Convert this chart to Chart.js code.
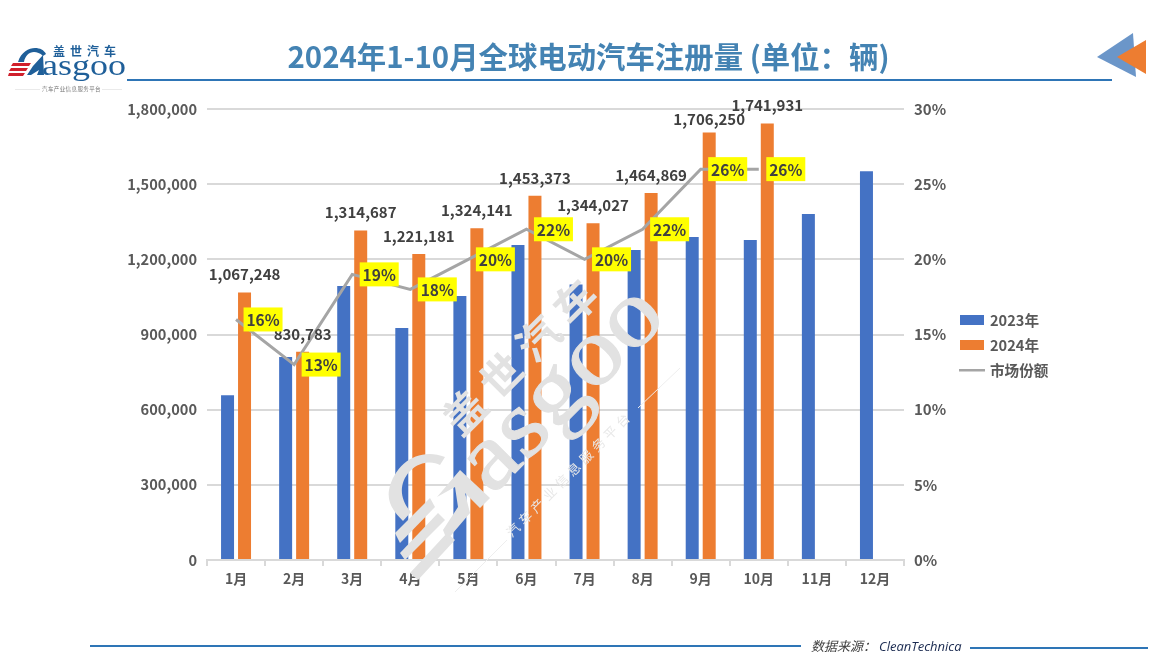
<!DOCTYPE html>
<html>
<head>
<meta charset="utf-8">
<script src="https://cdn.jsdelivr.net/npm/chart.js@4"></script>
<style>
  html, body { margin: 0; padding: 0; background: #fff; overflow: hidden; }
  #wrap { position: relative; width: 1173px; height: 661px; }
  #myChart { position: absolute; left: 0; top: 0; }
  svg { position: absolute; left: 0; top: 0; pointer-events: none; }
  #title { position: absolute; left: 0; top: 33px; width: 1177px; text-align: center;
    font: bold 29.4px "Noto Sans CJK SC"; color: #4483b3; line-height: 44px; }
  #source { position: absolute; left: 811px; top: 637px; font: italic 13px "Noto Sans CJK SC"; color: #404040; line-height: 18px; white-space: pre; }
  #source span { position: absolute; left: 68px; top: 0; font-family: "Open Sans"; color: #1a2a50; }
</style>
</head>
<body>
<div id="wrap">
  <canvas id="myChart" width="1173" height="661"></canvas>
  <div id="title">2024年1-10月全球电动汽车注册量 (单位：辆)</div>
  <svg width="1173" height="661" viewBox="0 0 1173 661">
    <!-- header and footer rules -->
    <rect x="127" y="79" width="985" height="2" fill="#2e75b6"/>
    <rect x="90" y="645" width="711" height="2" fill="#2e75b6"/>
    <rect x="970" y="647" width="178" height="2" fill="#2e75b6"/>
    <!-- corner arrows -->
    <polygon points="1097,57 1133,33 1136,77" fill="#6b96c9"/>
    <polygon points="1117,57 1146,40 1146,74" fill="#ed7d31"/>
    <!-- logo -->
    <g fill="#1f5f99">
      <text x="53" y="56" font-family="Noto Sans CJK SC" font-weight="bold" font-size="12" letter-spacing="5">盖世汽车</text>
      <text x="42" y="75" font-family="Liberation Serif" font-size="29" textLength="84" lengthAdjust="spacingAndGlyphs">asgoo</text>
      <path d="M18 62 C21 52 29 48 35 48 C40 48 44 50 46 54 L43 56 C40 53 37 52 34 52 C29 52 25 56 24 62 Z"/>
      <polygon points="33,66 43,55 44,75 37,75 39,70 31,75 27,75"/>
    </g>
    <g fill="#d0202c">
      <polygon points="13,63 31,63 29,66 11,66"/>
      <polygon points="11,68 28,68 26,71 9,71"/>
      <polygon points="9,73 25,73 23,76 8,76"/>
    </g>
    <rect x="15" y="89" width="25" height="0.6" fill="#ddd"/>
    <rect x="102" y="89" width="20" height="0.6" fill="#ddd"/>
    <text x="42" y="91" font-family="Noto Sans CJK SC" font-size="5.5" fill="#777" letter-spacing="0.4">汽车产业信息服务平台</text>
    <!-- watermark -->
    <g fill="#e2e2e2">
      <text transform="translate(492 496) rotate(-45)" font-family="Liberation Serif" font-size="96" textLength="250" lengthAdjust="spacingAndGlyphs" stroke="#e2e2e2" stroke-width="1">asgoo</text>
      <text transform="translate(461 438) rotate(-45)" font-family="Noto Sans CJK SC" font-weight="bold" font-size="42" letter-spacing="10">盖世汽车</text>
      <text transform="translate(512 538) rotate(-45)" font-family="Noto Sans CJK SC" font-size="13" letter-spacing="4.2" fill="#e8e8e8">汽车产业信息服务平台</text>
      <path d="M445 457 C420 447 395 462 389 490 C387 503 394 512 403 521 L411 512 C400 500 398 484 410 471 C420 461 433 461 440 465 Z"/>
      <polygon points="430,498 435,507 400,543 395,533"/>
      <polygon points="438,513 445,520 405,560 400,553"/>
      <polygon points="447,533 455,540 418,580 410,573"/>
      <polygon points="460,470 490,498 480,508 465,493 470,513 447,540 443,530 458,507 455,487 437,497"/>
    </g>
    <line x1="455" y1="592" x2="507" y2="540" stroke="#eee" stroke-width="1"/>
    <line x1="638" y1="408" x2="680" y2="368" stroke="#eee" stroke-width="1"/>
  </svg>
  <div id="source">数据来源：<span>CleanTechnica</span></div>
</div>
<script>
  const labels = ['1月', '2月', '3月', '4月', '5月', '6月', '7月', '8月', '9月', '10月', '11月', '12月'];
  const sales2023 = [658000, 810000, 1094000, 926000, 1054000, 1257000, 1100000, 1237000, 1289000, 1277000, 1381000, 1552000];
  const sales2024 = [1067248, 830783, 1314687, 1221181, 1324141, 1453373, 1344027, 1464869, 1706250, 1741931, null, null];
  const share = [16, 13, 19, 18, 20, 22, 20, 22, 26, 26, null, null];

  const cjk = '"Noto Sans CJK SC"';
  const grey = '#595959';

  // value labels, share boxes and legend are drawn here, no datalabels plugin available
  const chartLabels = {
    id: 'chartLabels',
    afterDatasetsDraw(chart) {
      const c = chart.ctx;
      const y = chart.scales.y;
      const y1 = chart.scales.y1;
      const bars = chart.getDatasetMeta(1).data;
      c.save();
      c.textAlign = 'center';
      c.textBaseline = 'middle';
      c.font = 'bold 15px ' + cjk;
      c.fillStyle = '#404040';
      sales2024.forEach((v, i) => {
        if (v === null) return;
        const lift = i === 8 ? 13 : 18;
        c.fillText(v.toLocaleString('en-US'), bars[i].x, y.getPixelForValue(v) - lift);
      });
      c.font = 'bold 15.5px ' + cjk;
      share.forEach((v, i) => {
        if (v === null) return;
        const cx = chart.scales.x.getPixelForValue(i) + 27;
        const cy = y1.getPixelForValue(v);
        c.fillStyle = '#ffff00';
        c.fillRect(cx - 19.5, cy - 12, 39, 24);
        c.fillStyle = '#404040';
        c.fillText(v + '%', cx, cy + 0.5);
      });
      // legend
      c.textAlign = 'left';
      c.font = 'bold 14.6px ' + cjk;
      [0, 1, 2].forEach(i => {
        const ds = chart.data.datasets[i];
        const ly = 320 + i * 25;
        if (ds.type === 'line') {
          c.fillStyle = ds.borderColor;
          c.fillRect(959, ly - 1, 26, 2.5);
        } else {
          c.fillStyle = ds.backgroundColor;
          c.fillRect(960, ly - 5, 24, 10);
        }
        c.fillStyle = grey;
        c.fillText(ds.label, 990, ly);
      });
      c.restore();
    }
  };

  const config = {
    data: {
      labels: labels,
      datasets: [{
        type: 'bar',
        label: '2023年',
        backgroundColor: '#4472c4',
        data: sales2023,
        yAxisID: 'y',
        order: 1,
        categoryPercentage: 0.585,
        barPercentage: 0.765,
      }, {
        type: 'bar',
        label: '2024年',
        backgroundColor: '#ed7d31',
        data: sales2024,
        yAxisID: 'y',
        order: 2,
        categoryPercentage: 0.585,
        barPercentage: 0.765,
      }, {
        type: 'line',
        label: '市场份额',
        borderColor: '#a5a5a5',
        borderWidth: 3,
        pointRadius: 0,
        tension: 0,
        data: share,
        yAxisID: 'y1',
        order: 0,
      }]
    },
    options: {
      responsive: false,
      animation: false,
      layout: { padding: { top: 109, left: 0, right: 0, bottom: 0 } },
      plugins: { legend: { display: false }, tooltip: { enabled: false } },
      scales: {
        x: {
          afterFit: s => { s.height = 101; },
          grid: { drawOnChartArea: false, color: '#d9d9d9', lineWidth: 2, tickLength: 6 },
          border: { color: '#d9d9d9', width: 2 },
          ticks: { color: grey, font: { family: cjk, size: 14, weight: 'bold' }, padding: 4 },
        },
        y: {
          position: 'left',
          min: 0,
          max: 1800000,
          afterFit: s => { s.width = 207; },
          grid: { color: '#d9d9d9', lineWidth: 2, drawTicks: false },
          border: { display: false },
          ticks: {
            stepSize: 300000,
            padding: 10,
            color: grey,
            font: { family: cjk, size: 14.6, weight: 'bold' },
            callback: v => v.toLocaleString('en-US'),
          },
        },
        y1: {
          position: 'right',
          min: 0,
          max: 30,
          afterFit: s => { s.width = 269; },
          grid: { drawOnChartArea: false, drawTicks: false },
          border: { display: false },
          ticks: {
            stepSize: 5,
            padding: 10,
            color: grey,
            font: { family: cjk, size: 15, weight: 'bold' },
            callback: v => v + '%',
          },
        },
      },
    },
    plugins: [chartLabels],
  };

  var myChart = new Chart(document.getElementById('myChart'), config);
</script>
</body>
</html>
